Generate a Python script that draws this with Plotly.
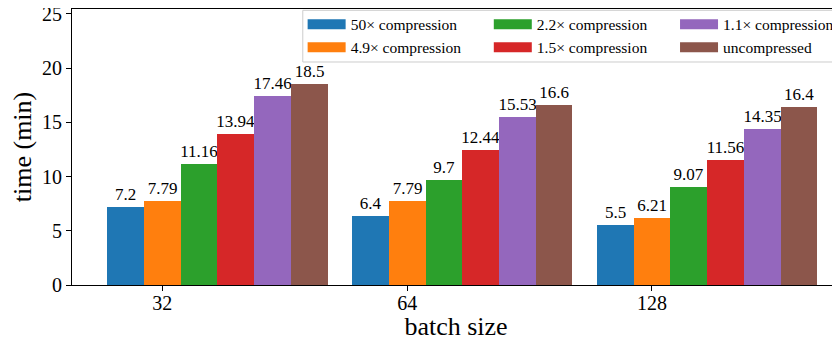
import plotly.graph_objects as go

batch_sizes = ["32", "64", "128"]
series_names = ["50× compression", "4.9× compression", "2.2× compression",
                "1.5× compression", "1.1× compression", "uncompressed"]
colors = ["#1f77b4", "#ff7f0e", "#2ca02c", "#d62728", "#9467bd", "#8c564b"]
values = [
    [7.2, 6.4, 5.5],
    [7.79, 7.79, 6.21],
    [11.16, 9.7, 9.07],
    [13.94, 12.44, 11.56],
    [17.46, 15.53, 14.35],
    [18.5, 16.6, 16.4],
]
legend_cols = ["legend", "legend", "legend2", "legend2", "legend3", "legend3"]

BAR_W = 0.15
FONT = "Liberation Serif"

fig = go.Figure()
for i, (name, col, vals) in enumerate(zip(series_names, colors, values)):
    xs = [g + (i - 1) * BAR_W for g in range(len(batch_sizes))]
    fig.add_trace(go.Bar(
        x=xs, y=vals, width=BAR_W, marker=dict(color=col, line=dict(width=0)),
        text=[f"{v:g}" for v in vals], textposition="outside",
        textfont=dict(family=FONT, size=17, color="black"),
        constraintext="none", cliponaxis=False, showlegend=False, name=name,
    ))
for i, (name, col) in enumerate(zip(series_names, colors)):
    fig.add_trace(go.Scatter(
        x=[None], y=[None], mode="lines", name=name,
        line=dict(color=col, width=10), legend=legend_cols[i],
    ))

leg_common = dict(
    orientation="v", yanchor="top", xanchor="left", y=1.005,
    bgcolor="rgba(0,0,0,0)", borderwidth=0,
    font=dict(family=FONT, size=15.5), itemwidth=38,
)

fig.update_layout(
    width=832, height=333,
    margin=dict(l=64, r=0, t=1, b=56, autoexpand=False),
    plot_bgcolor="white", paper_bgcolor="white",
    font=dict(family=FONT, color="black"),
    bargap=0,
    legend=dict(x=0.3003, **leg_common),
    legend2=dict(x=0.5427, **leg_common),
    legend3=dict(x=0.7852, **leg_common),
    shapes=[dict(
        type="rect", xref="paper", yref="paper",
        x0=0.3005, x1=1.1, y0=0.808, y1=0.9953,
        fillcolor="rgba(255,255,255,0.8)", line=dict(color="#cccccc", width=1),
        layer="above",
    )],
    xaxis=dict(
        range=[-0.369, 2.768], tickvals=[0, 1, 2], ticktext=batch_sizes,
        showline=True, linecolor="black", linewidth=1.2, mirror=True,
        ticks="outside", ticklen=5, tickcolor="black", showgrid=False, zeroline=False,
        tickfont=dict(family=FONT, size=20), automargin=False,
        ticklabelstandoff=-5,
        title=dict(text="batch size", font=dict(family=FONT, size=26), standoff=6),
    ),
    yaxis=dict(
        range=[0, 25.46], tickvals=[0, 5, 10, 15, 20, 25],
        showline=True, linecolor="black", linewidth=1.2, mirror=False,
        ticks="outside", ticklen=5, tickcolor="black", showgrid=False, zeroline=False,
        tickfont=dict(family=FONT, size=20), automargin=False,
        ticklabeloverflow="allow",
        title=dict(text="time (min)", font=dict(family=FONT, size=26), standoff=8),
    ),
)

fig.write_html("out.html")
